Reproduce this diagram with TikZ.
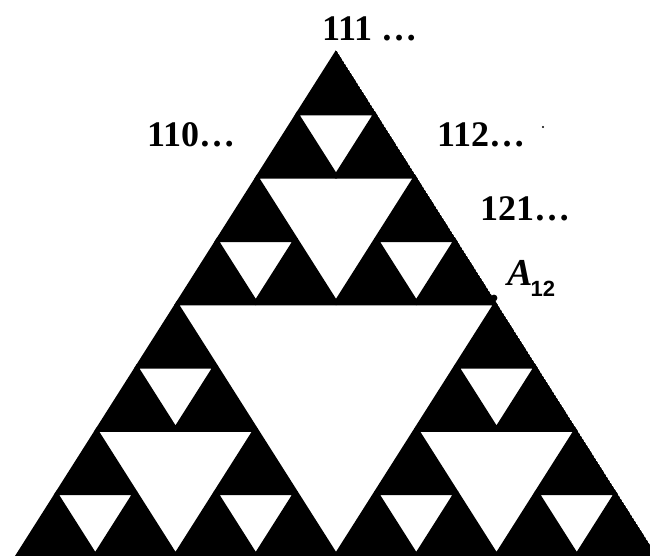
\documentclass[tikz,border=0pt]{standalone}
\usepackage{fontspec}
\setmainfont{Liberation Serif}
\newfontfamily\labsans{Liberation Sans}
\begin{document}
\begin{tikzpicture}[x=1pt,y=-1pt,
  hole/.style={fill=white,draw=black,line width=4.5pt,line join=round},
  lab/.style={font=\fontsize{36}{36}\selectfont\bfseries,inner sep=0pt,anchor=base west}]
\useasboundingbox (0,0) rectangle (650,556);
\begin{scope}
\clip (0,0) rectangle (650,556);
\clip (336,50) -- (15,556) -- (657,556) -- cycle;
% outer black triangle
\fill[black] (336,50) -- (15,556) -- (657,556) -- cycle;
% level 1 hole
\filldraw[hole] (175.5,303) -- (496.5,303) -- (336,556) -- cycle;
% level 2 holes
\foreach \ax/\ay in {336/50, 175.5/303, 496.5/303}{
  \filldraw[hole] (\ax-80.25,\ay+126.5) -- (\ax+80.25,\ay+126.5) -- (\ax,\ay+253) -- cycle;
}
% level 3 holes
\foreach \ax/\ay in {336/50, 255.75/176.5, 416.25/176.5,
                     175.5/303, 95.25/429.5, 255.75/429.5,
                     496.5/303, 416.25/429.5, 576.75/429.5}{
  \filldraw[hole] (\ax-40.125,\ay+63.25) -- (\ax+40.125,\ay+63.25) -- (\ax,\ay+126.5) -- cycle;
}
\end{scope}
% marked point and stray speck
\fill[black] (494,298) circle (3.4);
\fill[black] (543,127) circle (1.2);
% labels
\node[lab] (l111) at (322,41) {111 \ldots};
\node[lab] (l110) at (147,147) {110\ldots};
\node[lab] (l112) at (437,147) {112\ldots};
\node[lab] (l121) at (480,220) {121\ldots};
\node[inner sep=0pt,anchor=base west] (la12) at (507,285)
  {\fontsize{38}{38}\selectfont\bfseries\itshape A\kern-2pt\raisebox{-11pt}{\upshape\labsans\fontsize{22}{22}\selectfont\bfseries 12}};
\end{tikzpicture}
\end{document}
